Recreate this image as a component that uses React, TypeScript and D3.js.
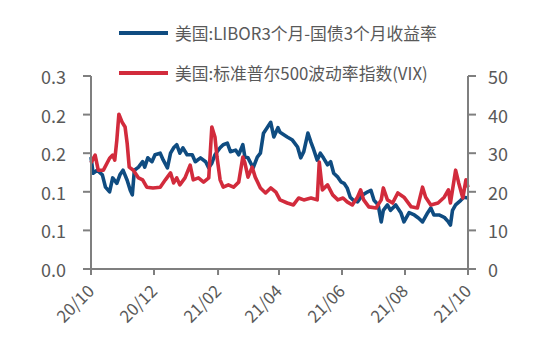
import * as d3 from 'd3';

// LIBOR 3M - 3M Treasury spread (left axis)
const liborDates = [
  '2020-10-01', '2020-10-03', '2020-10-07', '2020-10-12', '2020-10-15', '2020-10-19', '2020-10-22', '2020-10-26', '2020-10-29',
  '2020-11-01', '2020-11-05', '2020-11-08', '2020-11-10', '2020-11-12', '2020-11-16', '2020-11-20', '2020-11-22', '2020-11-25', '2020-11-29',
  '2020-12-02', '2020-12-07', '2020-12-10', '2020-12-14', '2020-12-17', '2020-12-20', '2020-12-23', '2020-12-26', '2020-12-29',
  '2021-01-02', '2021-01-07', '2021-01-10', '2021-01-15', '2021-01-20', '2021-01-23', '2021-01-26', '2021-01-29',
  '2021-02-03', '2021-02-06', '2021-02-10', '2021-02-13', '2021-02-18', '2021-02-21', '2021-02-25', '2021-02-27',
  '2021-03-02', '2021-03-07', '2021-03-11', '2021-03-14', '2021-03-17', '2021-03-21', '2021-03-24', '2021-03-27', '2021-03-31',
  '2021-04-02', '2021-04-09', '2021-04-14', '2021-04-19', '2021-04-22', '2021-04-25', '2021-04-29',
  '2021-05-02', '2021-05-04', '2021-05-08', '2021-05-11', '2021-05-14', '2021-05-18', '2021-05-21', '2021-05-24', '2021-05-28', '2021-05-31',
  '2021-06-03', '2021-06-06', '2021-06-09', '2021-06-12', '2021-06-16', '2021-06-21', '2021-06-26', '2021-06-29',
  '2021-07-02', '2021-07-06', '2021-07-09', '2021-07-11', '2021-07-15', '2021-07-18', '2021-07-23', '2021-07-28', '2021-07-31',
  '2021-08-05', '2021-08-10', '2021-08-14', '2021-08-18', '2021-08-23', '2021-08-26', '2021-08-29',
  '2021-09-03', '2021-09-08', '2021-09-12', '2021-09-14', '2021-09-16', '2021-09-19', '2021-09-24', '2021-09-27', '2021-10-01',
];
const liborValues = [
  0.145, 0.124, 0.128, 0.122, 0.106, 0.100, 0.118, 0.111, 0.122,
  0.128, 0.115, 0.102, 0.096, 0.128, 0.132, 0.139, 0.132, 0.144, 0.139,
  0.148, 0.150, 0.141, 0.131, 0.150, 0.157, 0.161, 0.150, 0.157,
  0.148, 0.148, 0.139, 0.144, 0.139, 0.131, 0.137, 0.148,
  0.157, 0.161, 0.163, 0.152, 0.154, 0.148, 0.161, 0.145,
  0.144, 0.131, 0.145, 0.150, 0.176, 0.184, 0.190, 0.171, 0.183,
  0.177, 0.171, 0.167, 0.158, 0.144, 0.152, 0.176,
  0.164, 0.157, 0.141, 0.150, 0.144, 0.135, 0.139, 0.124, 0.119, 0.113,
  0.111, 0.105, 0.093, 0.089, 0.087, 0.096, 0.100, 0.102,
  0.089, 0.083, 0.061, 0.076, 0.083, 0.076, 0.083, 0.073, 0.061,
  0.073, 0.070, 0.066, 0.061, 0.073, 0.079, 0.070,
  0.070, 0.067, 0.061, 0.057, 0.076, 0.083, 0.089, 0.093, 0.092,
];

// VIX (right axis)
const vixDates = [
  '2020-10-01', '2020-10-05', '2020-10-08', '2020-10-13', '2020-10-19', '2020-10-22', '2020-10-24', '2020-10-26', '2020-10-28', '2020-10-31',
  '2020-11-03', '2020-11-05', '2020-11-07', '2020-11-11', '2020-11-16', '2020-11-20', '2020-11-24', '2020-11-30',
  '2020-12-07', '2020-12-12', '2020-12-17', '2020-12-20', '2020-12-23', '2020-12-26', '2020-12-31',
  '2021-01-05', '2021-01-08', '2021-01-13', '2021-01-18', '2021-01-23', '2021-01-26', '2021-01-29', '2021-01-31',
  '2021-02-03', '2021-02-06', '2021-02-11', '2021-02-16', '2021-02-21', '2021-02-25', '2021-02-27',
  '2021-03-02', '2021-03-06', '2021-03-09', '2021-03-14', '2021-03-19', '2021-03-24', '2021-03-29',
  '2021-04-02', '2021-04-09', '2021-04-15', '2021-04-20', '2021-04-25',
  '2021-05-02', '2021-05-08', '2021-05-10', '2021-05-13', '2021-05-18', '2021-05-23', '2021-05-28',
  '2021-06-02', '2021-06-06', '2021-06-11', '2021-06-16', '2021-06-19', '2021-06-22', '2021-06-27',
  '2021-07-04', '2021-07-09', '2021-07-11', '2021-07-15', '2021-07-20', '2021-07-25', '2021-07-31',
  '2021-08-07', '2021-08-13', '2021-08-18', '2021-08-21', '2021-08-26',
  '2021-09-02', '2021-09-08', '2021-09-12', '2021-09-14', '2021-09-19', '2021-09-22', '2021-09-26', '2021-09-29', '2021-10-01',
];
const vixValues = [
  27.5, 29.5, 25.6, 25.6, 28.7, 29.5, 28.2, 33.4, 40.1, 38.1,
  36.8, 32.6, 26.4, 25.6, 23.6, 23.1, 21.2, 21.0,
  21.2, 23.1, 24.9, 22.3, 23.6, 21.8, 23.6,
  26.9, 23.1, 23.6, 22.5, 23.6, 36.8, 34.2, 29.0,
  23.1, 21.2, 21.8, 21.2, 22.5, 29.0, 27.5,
  23.8, 26.4, 23.8, 21.0, 19.7, 21.0, 19.9,
  17.9, 17.1, 16.6, 18.4, 17.9,
  18.4, 17.9, 27.7, 20.5, 21.8, 19.2, 17.9,
  18.4, 17.4, 16.6, 18.6, 20.5, 17.9, 16.1,
  15.8, 17.9, 21.0, 17.9, 17.1, 19.7, 18.6,
  16.1, 15.8, 21.2, 18.6, 16.6,
  17.1, 18.6, 20.5, 17.1, 25.6, 22.3, 18.4, 23.1, 21.2,
];

const leftTicks = [0, 0.05, 0.1, 0.15, 0.2, 0.25];
const leftTickLabels = ['0.0', '0.1', '0.1', '0.2', '0.2', '0.3'];
const rightTicks = [0, 10, 20, 30, 40, 50];
const xTicks = ['2020-10-01', '2020-12-01', '2021-02-01', '2021-04-01', '2021-06-01', '2021-08-01', '2021-10-01'];
const xTickLabels = ['20/10', '20/12', '21/02', '21/04', '21/06', '21/08', '21/10'];

const seriesNames = ['美国:LIBOR3个月-国债3个月收益率', '美国:标准普尔500波动率指数(VIX)'];
const seriesColors = ['#0f4c81', '#d22b3c'];

const parse = d3.timeParse('%Y-%m-%d');

export default function App() {
  const width = 550;
  const height = 352;
  const margin = { top: 76, right: 82, bottom: 83, left: 91 };
  const innerH = height - margin.top - margin.bottom;

  const x = d3.scaleTime()
    .domain([parse('2020-10-01')!, parse('2021-10-01')!])
    .range([margin.left, width - margin.right]);
  const yL = d3.scaleLinear().domain([0, 0.25]).range([margin.top + innerH, margin.top]);
  const yR = d3.scaleLinear().domain([0, 50]).range([margin.top + innerH, margin.top]);

  const libor = liborDates.map((d, i) => ({ date: parse(d)!, v: liborValues[i] }));
  const vix = vixDates.map((d, i) => ({ date: parse(d)!, v: vixValues[i] }));

  const liborLine = d3.line<{ date: Date; v: number }>().x((d) => x(d.date)).y((d) => yL(d.v));
  const vixLine = d3.line<{ date: Date; v: number }>().x((d) => x(d.date)).y((d) => yR(d.v));

  const axisColor = '#7f7f7f';
  const textColor = '#595959';
  const font = '"Noto Sans CJK SC", "Open Sans", sans-serif';
  const x0 = margin.left;
  const x1 = width - margin.right;
  const yBase = margin.top + innerH;

  return (
    <svg width={width} height={height} style={{ position: 'absolute', left: 0, top: 0, background: '#fff' }} fontFamily={font}>
      {/* legend */}
      {seriesNames.map((name, i) => (
        <g key={name} transform={'translate(119,' + (33 + i * 40) + ')'}>
          <line x1={0} x2={49} y1={0} y2={0} stroke={seriesColors[i]} strokeWidth={4} />
          <text x={56} y={0} dominantBaseline="central" fontSize={16.8} fill={textColor}>{name}</text>
        </g>
      ))}

      {/* lines */}
      <path d={liborLine(libor) || ''} fill="none" stroke={seriesColors[0]} strokeWidth={3.6} strokeLinejoin="round" />
      <path d={vixLine(vix) || ''} fill="none" stroke={seriesColors[1]} strokeWidth={3.6} strokeLinejoin="round" />

      {/* left axis */}
      <line x1={x0} x2={x0} y1={margin.top} y2={yBase} stroke={axisColor} strokeWidth={2} />
      {leftTicks.map((t, i) => (
        <g key={'l' + i}>
          <line x1={x0 - 8} x2={x0} y1={yL(t)} y2={yL(t)} stroke={axisColor} strokeWidth={2} />
          <text x={66} y={yL(t)} textAnchor="end" dominantBaseline="central" fontSize={18} fill={textColor}>{leftTickLabels[i]}</text>
        </g>
      ))}

      {/* right axis */}
      <line x1={x1} x2={x1} y1={margin.top} y2={yBase} stroke={axisColor} strokeWidth={2} />
      {rightTicks.map((t) => (
        <g key={'r' + t}>
          <line x1={x1} x2={x1 + 8} y1={yR(t)} y2={yR(t)} stroke={axisColor} strokeWidth={2} />
          <text x={488} y={yR(t)} textAnchor="start" dominantBaseline="central" fontSize={18} fill={textColor}>{t}</text>
        </g>
      ))}

      {/* bottom axis */}
      <line x1={x0} x2={x1} y1={yBase} y2={yBase} stroke={axisColor} strokeWidth={2} />
      {xTicks.map((t, i) => {
        const px = x(parse(t)!);
        return (
          <g key={t}>
            <line x1={px} x2={px} y1={yBase} y2={yBase + 6} stroke={axisColor} strokeWidth={2} />
            <text
              transform={'translate(' + (px - 1) + ',' + (yBase + 18) + ') rotate(-45)'}
              textAnchor="end"
              dominantBaseline="central"
              fontSize={17}
              fill={textColor}
            >
              {xTickLabels[i]}
            </text>
          </g>
        );
      })}
    </svg>
  );
}
